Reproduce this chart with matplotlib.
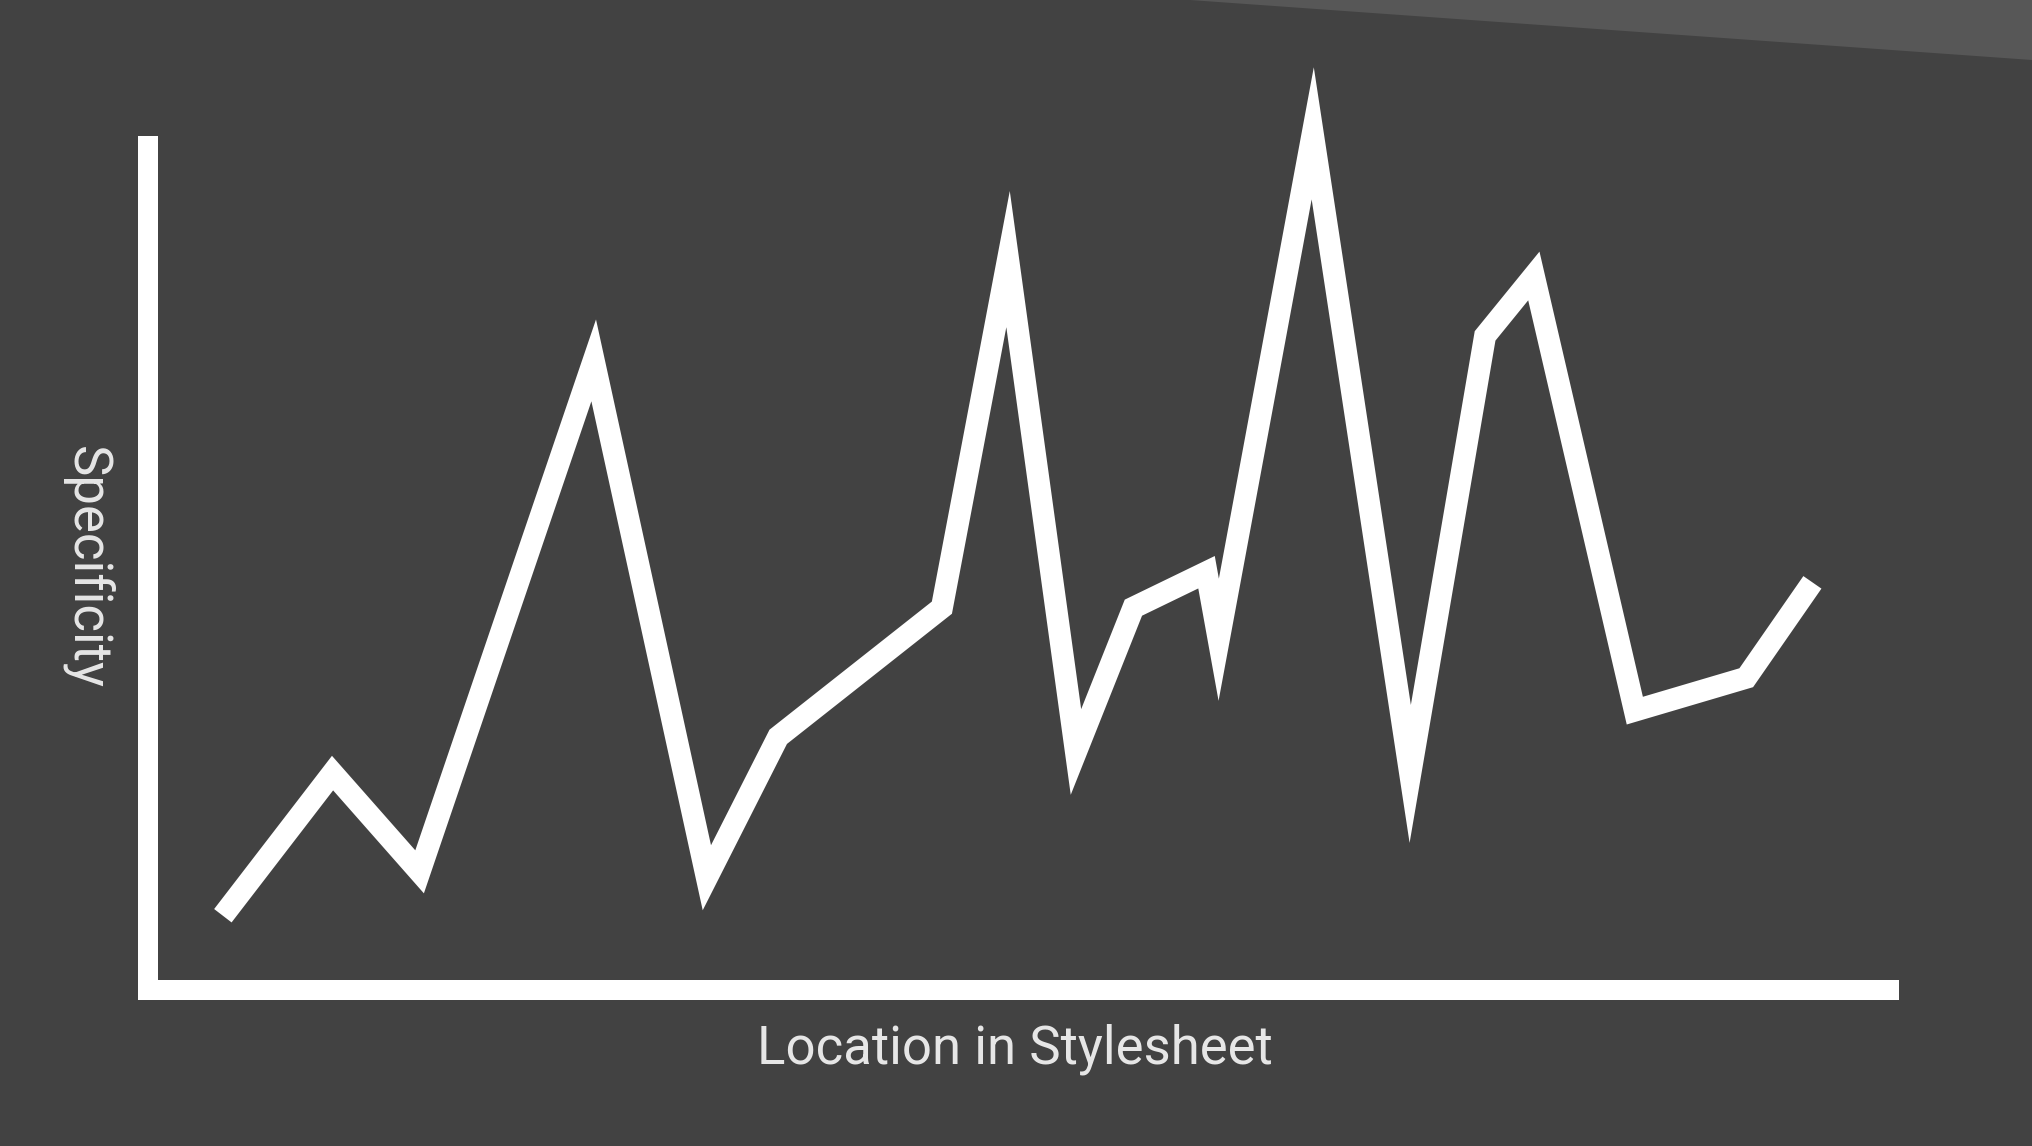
import matplotlib
matplotlib.use("Agg")
import matplotlib.pyplot as plt
from matplotlib.patches import Polygon

# location in stylesheet (0-100) vs specificity (0-100)
location = [4.3, 10.6, 15.6, 25.6, 32.1, 36.2, 45.6, 49.4, 53.3, 56.6,
            60.8, 61.5, 66.9, 72.5, 76.8, 79.6, 85.4, 91.8, 95.6]
specificity = [8.8, 25.7, 14.0, 74.6, 13.3, 30.0, 45.3, 86.6, 28.2, 45.3,
               49.5, 41.5, 101.5, 25.6, 77.5, 84.6, 33.1, 37.0, 48.3]

xlabel = "Location in Stylesheet"
ylabel = "Specificity"

bg = "#424242"
wedge = "#575757"
fg = "#ffffff"
txt = "#e6e6e6"

W, H = 2032, 1146
fig = plt.figure(figsize=(W / 100, H / 100), dpi=100, facecolor=bg)

# lighter band in the top right corner
fig.patches.append(Polygon([(1190 / W, 1), (1, 1), (1, 1 - 60 / H)], closed=True,
                           transform=fig.transFigure, facecolor=wedge,
                           edgecolor="none", zorder=0))

ax = fig.add_axes([148 / W, (H - 990) / H, (1889 - 148) / W, (990 - 146) / H])
ax.set_facecolor("none")

lw_axis = 20 * 72 / 100  # 20 px
lw_line = 22 * 72 / 100
ax.plot(location, specificity, color=fg, lw=lw_line, solid_joinstyle="miter",
        solid_capstyle="butt", clip_on=False)

ax.set_xlim(0, 100)
ax.set_ylim(0, 100)
ax.set_xticks([])
ax.set_yticks([])
for side in ("top", "right"):
    ax.spines[side].set_visible(False)
for side in ("left", "bottom"):
    ax.spines[side].set_color(fg)
    ax.spines[side].set_linewidth(lw_axis)
    ax.spines[side].set_capstyle("projecting")

ax.set_xlabel(xlabel, color=txt, fontsize=38, family="Roboto", fontweight="normal")
ax.xaxis.set_label_coords(0.498, -0.04)
ax.set_ylabel(ylabel, color=txt, fontsize=38, family="Roboto", fontweight="normal",
              rotation=270, va="center")
ax.yaxis.set_label_coords(-0.035, 0.5)

fig.savefig("out.png", dpi=100, facecolor=bg)
